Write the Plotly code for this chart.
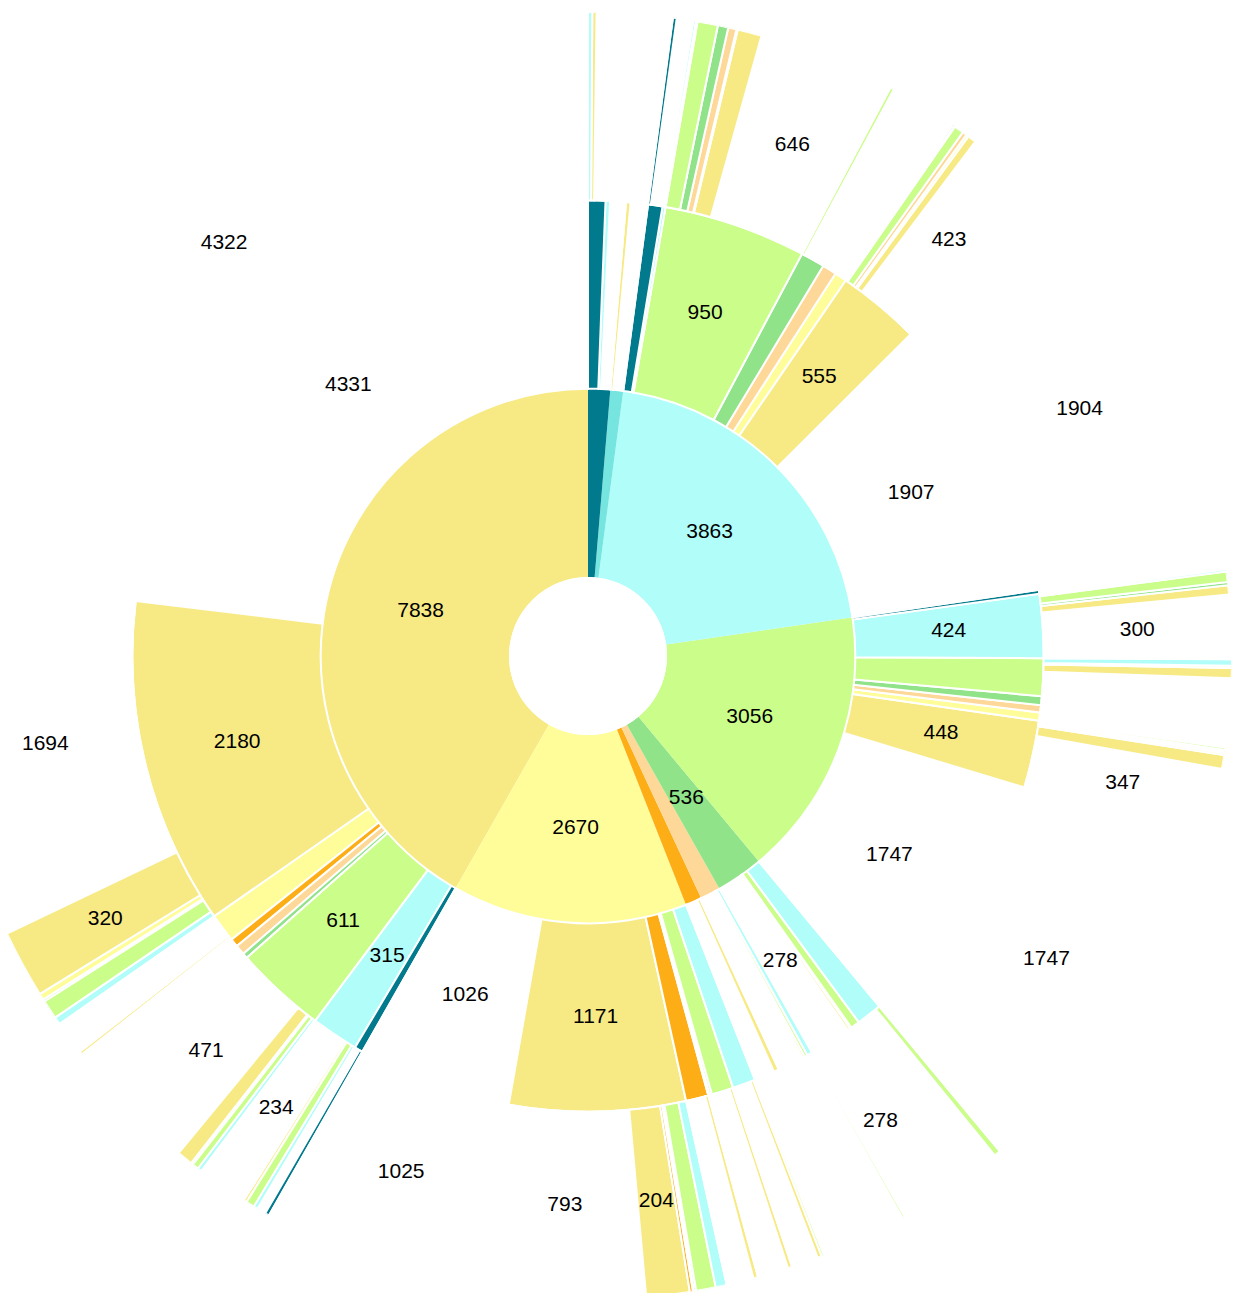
import math
import plotly.graph_objects as go

# ---------------- data ----------------
# category order (counter-clockwise order inside every parent)
CATS = ["white", "khaki", "paleyellow", "orange", "peach", "darkgreen", "lime", "cyan", "turquoise", "teal"]
CAT_COLORS = ["#FFFFFF", "#F7EA85", "#FFFD99", "#FDAE17", "#FED898", "#90E389", "#CBFD8B", "#B0FDFA", "#77E5DF", "#007A8C"]

# level 1 (inner ring)
ring1_values = [0, 7838, 2670, 185, 230, 536, 3056, 3863, 145, 250]

# level 2 (children of each level-1 category, in CATS order)
ring2_khaki = [4331, 2180, 190, 55, 66, 35, 611, 315, 0, 55]
ring2_paleyellow = [1026, 1171, 0, 150, 10, 15, 145, 153, 0, 0]
ring2_orange = [135, 35, 0, 0, 0, 0, 8, 7, 0, 0]
ring2_peach = [160, 15, 0, 0, 0, 0, 20, 35, 0, 0]
ring2_darkgreen = [278, 18, 10, 0, 0, 0, 60, 170, 0, 0]
ring2_lime = [1747, 448, 54, 0, 49, 59, 249, 424, 0, 26]
ring2_cyan = [1907, 555, 80, 0, 95, 160, 950, 20, 0, 96]
ring2_turquoise = [115, 30, 0, 0, 0, 0, 0, 0, 0, 0]
ring2_teal = [105, 0, 0, 0, 0, 0, 0, 30, 0, 115]

# level 3 (children of level-2 nodes: r3_<level1>_<level2>)
r3_khaki_white = [4322, 5, 0, 0, 0, 0, 4, 0, 0, 0]
r3_khaki_khaki = [1694, 320, 30, 0, 0, 10, 90, 36, 0, 0]
r3_khaki_paleyellow = [160, 15, 0, 0, 0, 0, 10, 5, 0, 0]
r3_khaki_lime = [471, 75, 10, 0, 0, 0, 30, 20, 0, 5]
r3_khaki_cyan = [234, 15, 0, 0, 0, 0, 40, 20, 0, 6]
r3_khaki_teal = [35, 0, 0, 0, 0, 0, 0, 0, 0, 20]
r3_paleyellow_white = [1025, 1, 0, 0, 0, 0, 0, 0, 0, 0]
r3_paleyellow_khaki = [793, 204, 0, 15, 5, 10, 92, 52, 0, 0]
r3_paleyellow_orange = [128, 22, 0, 0, 0, 0, 0, 0, 0, 0]
r3_paleyellow_lime = [120, 20, 0, 0, 0, 0, 0, 5, 0, 0]
r3_paleyellow_cyan = [121, 20, 0, 0, 0, 0, 12, 0, 0, 0]
r3_peach_cyan = [23, 0, 0, 0, 0, 0, 12, 0, 0, 0]
r3_darkgreen_white = [278, 0, 0, 0, 0, 0, 0, 0, 0, 0]
r3_darkgreen_cyan = [140, 0, 0, 0, 0, 0, 30, 0, 0, 0]
r3_lime_white = [1747, 0, 0, 0, 0, 0, 0, 0, 0, 0]
r3_lime_khaki = [347, 65, 10, 0, 6, 8, 12, 0, 0, 0]
r3_lime_lime = [160, 48, 0, 0, 0, 0, 10, 31, 0, 0]
r3_lime_cyan = [300, 44, 0, 0, 0, 15, 49, 11, 0, 5]
r3_cyan_white = [1904, 0, 0, 0, 0, 0, 0, 3, 0, 0]
r3_cyan_khaki = [423, 40, 12, 0, 20, 0, 45, 5, 0, 10]
r3_cyan_darkgreen = [134, 8, 0, 0, 0, 0, 18, 0, 0, 0]
r3_cyan_lime = [646, 114, 6, 0, 39, 49, 96, 0, 0, 0]
r3_cyan_cyan = [8, 0, 0, 0, 0, 0, 0, 12, 0, 0]
r3_cyan_teal = [78, 0, 0, 0, 0, 0, 0, 0, 0, 18]
r3_teal_teal = [75, 20, 0, 0, 0, 0, 0, 20, 0, 0]

# ---------------- layout constants ----------------
FIG = 1288            # square figure, polar radius = 644 px
OUTER_PX = FIG / 2
HOLE_PX = 79
RING_PX = (OUTER_PX - HOLE_PX) / 3
FONT = 21
LINE_W = [0, 2, 2]

TOTAL = sum(ring1_values)
DEG = 360.0 / TOTAL


def place(values, hi):
    """lay children counter-clockwise starting at angle `hi` (clockwise degrees)."""
    out = []
    cur = hi
    for k, v in enumerate(values):
        if v <= 0:
            continue
        w = v * DEG
        out.append((k, v, cur - w, cur))
        cur -= w
    return out


levels = {1: [], 2: [], 3: []}
for k1, v1, lo1, hi1 in place(ring1_values, 360.0):
    levels[1].append((k1, v1, lo1, hi1))
    kids2 = globals()["ring2_" + CATS[k1]]
    for k2, v2, lo2, hi2 in place(kids2, hi1):
        levels[2].append((k2, v2, lo2, hi2))
        kids3 = globals().get("r3_%s_%s" % (CATS[k1], CATS[k2]))
        if kids3 is None:
            kids3 = [v2] + [0] * (len(CATS) - 1)
        for k3, v3, lo3, hi3 in place(kids3, hi2):
            levels[3].append((k3, v3, lo3, hi3))

fig = go.Figure()

txt_r, txt_t, txt_s = [], [], []
for depth in (1, 2, 3):
    nodes = levels[depth]
    fig.add_trace(go.Barpolar(
        r=[1] * len(nodes),
        base=[depth - 1] * len(nodes),
        theta=[(lo + hi) / 2 for _, _, lo, hi in nodes],
        width=[hi - lo for _, _, lo, hi in nodes],
        marker=dict(color=[CAT_COLORS[k] for k, _, _, _ in nodes],
                    line=dict(color="white", width=LINE_W[depth - 1])),
        hoverinfo="skip",
        showlegend=False,
    ))
    r_mid = HOLE_PX + (depth - 0.5) * RING_PX
    for k, v, lo, hi in nodes:
        arc = math.radians(hi - lo) * r_mid
        label = str(v)
        if arc >= 0.87 * len(label) * 0.556 * FONT:
            txt_r.append(depth - 0.5)
            txt_t.append((lo + hi) / 2)
            txt_s.append(label)

fig.add_trace(go.Scatterpolar(
    r=txt_r, theta=txt_t, text=txt_s, mode="text",
    textfont=dict(size=FONT, color="#000000", family="Arial, Liberation Sans, sans-serif"),
    hoverinfo="skip", showlegend=False,
))

fig.update_layout(
    width=FIG, height=FIG, autosize=False,
    margin=dict(l=0, r=0, t=0, b=0),
    paper_bgcolor="white",
    showlegend=False,
    polar=dict(
        domain=dict(x=[0, 1], y=[0, 1]),
        hole=HOLE_PX / OUTER_PX,
        bgcolor="white",
        barmode="overlay",
        radialaxis=dict(range=[0, 3], visible=False),
        angularaxis=dict(rotation=90, direction="clockwise", visible=False),
    ),
)

post = ("var gd=document.getElementById('{plot_id}');"
        "document.body.style.margin='0';document.body.style.overflow='hidden';"
        "gd.style.position='absolute';gd.style.left='-56px';gd.style.top='12px';")

fig.write_html("out.html", post_script=post, config={"displayModeBar": False})
